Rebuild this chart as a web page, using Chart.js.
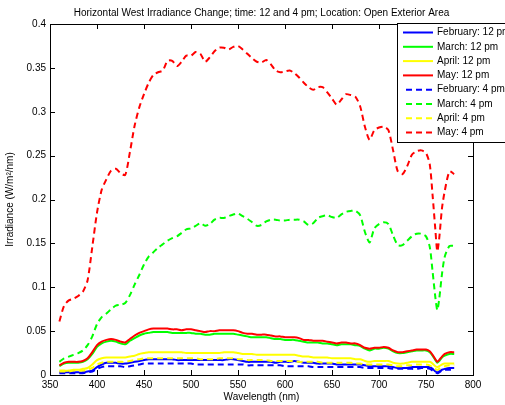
<!DOCTYPE html>
<html>
<head>
<meta charset="utf-8">
<script src="https://cdn.jsdelivr.net/npm/chart.js@4.4.0/dist/chart.umd.min.js"></script>
<style>
  body { margin: 0; background: #fff; }
  #wrap { width: 505px; height: 405px; }
</style>
</head>
<body>
<div id="wrap"><canvas id="myChart" width="505" height="405"></canvas></div>
<script>
// wavelengths (nm), shared by every series
const wavelengths = [
  360, 365, 370, 375, 380, 385, 390, 395, 400, 405,
  410, 415, 420, 425, 430, 435, 440, 445, 450, 455,
  460, 465, 470, 475, 480, 485, 490, 495, 500, 505,
  510, 515, 520, 525, 530, 535, 540, 545, 550, 555,
  560, 565, 570, 575, 580, 585, 590, 595, 600, 605,
  610, 615, 620, 625, 630, 635, 640, 645, 650, 655,
  660, 665, 670, 675, 680, 685, 690, 695, 700, 705,
  710, 715, 720, 725, 730, 735, 740, 745, 750, 754,
  757, 760, 762, 764, 767, 770, 775, 780
];

const febNoon = [
  0.003, 0.003, 0.003, 0.003, 0.003, 0.003, 0.004, 0.005, 0.009, 0.012,
  0.014, 0.014, 0.014, 0.013, 0.013, 0.014, 0.015, 0.016, 0.017, 0.018,
  0.018, 0.018, 0.018, 0.018, 0.018, 0.017, 0.017, 0.017, 0.017, 0.017,
  0.017, 0.017, 0.017, 0.017, 0.017, 0.017, 0.018, 0.018, 0.017, 0.016,
  0.015, 0.015, 0.015, 0.015, 0.015, 0.015, 0.014, 0.015, 0.015, 0.015,
  0.016, 0.015, 0.014, 0.014, 0.014, 0.013, 0.013, 0.013, 0.013, 0.012,
  0.012, 0.012, 0.012, 0.012, 0.012, 0.011, 0.010, 0.010, 0.010, 0.010,
  0.010, 0.009, 0.008, 0.008, 0.008, 0.009, 0.009, 0.009, 0.009, 0.009,
  0.007, 0.004, 0.003, 0.004, 0.006, 0.007, 0.008, 0.008
];
const marNoon = [
  0.010, 0.013, 0.014, 0.014, 0.014, 0.015, 0.018, 0.024, 0.032, 0.036,
  0.038, 0.039, 0.038, 0.036, 0.035, 0.039, 0.042, 0.045, 0.047, 0.048,
  0.049, 0.049, 0.049, 0.049, 0.048, 0.048, 0.048, 0.048, 0.048, 0.047,
  0.047, 0.046, 0.046, 0.047, 0.047, 0.047, 0.047, 0.047, 0.046, 0.045,
  0.044, 0.043, 0.043, 0.043, 0.043, 0.042, 0.041, 0.041, 0.040, 0.040,
  0.040, 0.039, 0.038, 0.037, 0.037, 0.037, 0.036, 0.036, 0.035, 0.034,
  0.035, 0.035, 0.035, 0.034, 0.033, 0.030, 0.028, 0.030, 0.030, 0.031,
  0.030, 0.027, 0.025, 0.025, 0.026, 0.027, 0.028, 0.028, 0.028, 0.026,
  0.022, 0.017, 0.014, 0.016, 0.020, 0.022, 0.024, 0.024
];
const aprNoon = [
  0.005, 0.005, 0.005, 0.006, 0.006, 0.007, 0.008, 0.012, 0.017, 0.019,
  0.020, 0.020, 0.020, 0.020, 0.020, 0.021, 0.022, 0.024, 0.025, 0.026,
  0.026, 0.026, 0.026, 0.026, 0.026, 0.026, 0.026, 0.025, 0.025, 0.025,
  0.025, 0.025, 0.025, 0.025, 0.025, 0.026, 0.026, 0.026, 0.025, 0.024,
  0.024, 0.024, 0.023, 0.023, 0.023, 0.023, 0.023, 0.023, 0.023, 0.023,
  0.023, 0.022, 0.021, 0.021, 0.020, 0.020, 0.020, 0.020, 0.019, 0.019,
  0.019, 0.019, 0.019, 0.018, 0.018, 0.016, 0.015, 0.016, 0.016, 0.016,
  0.016, 0.014, 0.013, 0.013, 0.014, 0.015, 0.015, 0.015, 0.015, 0.015,
  0.013, 0.010, 0.009, 0.010, 0.012, 0.013, 0.013, 0.013
];
const mayNoon = [
  0.011, 0.014, 0.015, 0.015, 0.015, 0.016, 0.019, 0.026, 0.034, 0.038,
  0.040, 0.041, 0.040, 0.038, 0.037, 0.041, 0.045, 0.048, 0.050, 0.052,
  0.053, 0.053, 0.053, 0.053, 0.052, 0.052, 0.051, 0.052, 0.052, 0.051,
  0.050, 0.049, 0.050, 0.050, 0.051, 0.051, 0.051, 0.051, 0.050, 0.048,
  0.047, 0.047, 0.046, 0.046, 0.046, 0.045, 0.044, 0.044, 0.043, 0.043,
  0.043, 0.042, 0.040, 0.040, 0.039, 0.039, 0.039, 0.038, 0.037, 0.036,
  0.037, 0.037, 0.036, 0.036, 0.034, 0.031, 0.030, 0.031, 0.031, 0.032,
  0.031, 0.028, 0.026, 0.026, 0.027, 0.028, 0.029, 0.029, 0.029, 0.027,
  0.023, 0.018, 0.015, 0.017, 0.021, 0.024, 0.026, 0.026
];
const febPM = [
  0.002, 0.002, 0.002, 0.002, 0.002, 0.002, 0.003, 0.004, 0.007, 0.009,
  0.010, 0.010, 0.010, 0.010, 0.009, 0.010, 0.011, 0.012, 0.013, 0.013,
  0.013, 0.013, 0.013, 0.013, 0.013, 0.013, 0.013, 0.013, 0.013, 0.012,
  0.012, 0.012, 0.012, 0.012, 0.012, 0.012, 0.012, 0.012, 0.012, 0.012,
  0.011, 0.011, 0.011, 0.011, 0.011, 0.011, 0.011, 0.011, 0.010, 0.010,
  0.010, 0.010, 0.010, 0.010, 0.009, 0.009, 0.009, 0.009, 0.009, 0.009,
  0.009, 0.009, 0.009, 0.009, 0.009, 0.008, 0.008, 0.008, 0.008, 0.008,
  0.008, 0.007, 0.007, 0.007, 0.007, 0.007, 0.007, 0.008, 0.008, 0.007,
  0.005, 0.003, 0.002, 0.003, 0.005, 0.006, 0.006, 0.006
];
const marPM = [
  0.015, 0.019, 0.021, 0.023, 0.025, 0.028, 0.034, 0.044, 0.058, 0.066,
  0.070, 0.075, 0.079, 0.080, 0.082, 0.091, 0.103, 0.114, 0.126, 0.135,
  0.140, 0.145, 0.149, 0.153, 0.156, 0.158, 0.162, 0.166, 0.167, 0.170,
  0.173, 0.170, 0.172, 0.177, 0.179, 0.179, 0.181, 0.183, 0.184, 0.181,
  0.178, 0.174, 0.170, 0.171, 0.175, 0.177, 0.177, 0.176, 0.176, 0.177,
  0.177, 0.177, 0.175, 0.171, 0.173, 0.179, 0.181, 0.182, 0.180, 0.179,
  0.183, 0.186, 0.187, 0.187, 0.182, 0.163, 0.151, 0.167, 0.172, 0.174,
  0.172, 0.159, 0.148, 0.148, 0.153, 0.158, 0.161, 0.161, 0.158, 0.146,
  0.118, 0.088, 0.074, 0.086, 0.115, 0.135, 0.147, 0.147
];
const aprPM = [
  0.004, 0.004, 0.004, 0.005, 0.005, 0.005, 0.006, 0.008, 0.012, 0.014,
  0.015, 0.015, 0.015, 0.015, 0.015, 0.016, 0.017, 0.018, 0.019, 0.019,
  0.019, 0.019, 0.019, 0.019, 0.019, 0.019, 0.019, 0.019, 0.019, 0.019,
  0.018, 0.018, 0.018, 0.018, 0.019, 0.019, 0.019, 0.019, 0.018, 0.018,
  0.017, 0.017, 0.017, 0.017, 0.017, 0.016, 0.016, 0.016, 0.016, 0.016,
  0.016, 0.015, 0.015, 0.015, 0.015, 0.015, 0.014, 0.014, 0.014, 0.014,
  0.014, 0.014, 0.014, 0.013, 0.013, 0.012, 0.012, 0.012, 0.012, 0.012,
  0.012, 0.011, 0.010, 0.010, 0.011, 0.011, 0.012, 0.012, 0.012, 0.011,
  0.009, 0.007, 0.006, 0.007, 0.009, 0.010, 0.011, 0.011
];
const mayPM = [
  0.061, 0.079, 0.085, 0.087, 0.090, 0.095, 0.108, 0.146, 0.185, 0.211,
  0.223, 0.233, 0.235, 0.230, 0.228, 0.254, 0.284, 0.305, 0.320, 0.333,
  0.342, 0.345, 0.347, 0.358, 0.358, 0.352, 0.357, 0.364, 0.364, 0.368,
  0.366, 0.357, 0.362, 0.369, 0.373, 0.373, 0.371, 0.374, 0.375, 0.371,
  0.366, 0.361, 0.357, 0.356, 0.359, 0.354, 0.347, 0.345, 0.346, 0.347,
  0.344, 0.339, 0.333, 0.328, 0.325, 0.328, 0.328, 0.322, 0.315, 0.308,
  0.314, 0.320, 0.319, 0.317, 0.306, 0.283, 0.268, 0.279, 0.282, 0.283,
  0.279, 0.256, 0.232, 0.229, 0.238, 0.251, 0.255, 0.256, 0.253, 0.240,
  0.205, 0.165, 0.141, 0.155, 0.190, 0.210, 0.232, 0.229
];

const seriesLabels = [
  "February: 12 pm", "March: 12 pm", "April: 12 pm", "May: 12 pm",
  "February: 4 pm", "March: 4 pm", "April: 4 pm", "May: 4 pm"
];
const seriesValues = [febNoon, marNoon, aprNoon, mayNoon, febPM, marPM, aprPM, mayPM];
const seriesColors = ["#0000ff", "#00ff00", "#ffff00", "#ff0000", "#0000ff", "#00ff00", "#ffff00", "#ff0000"];
const xTicks = [350, 400, 450, 500, 550, 600, 650, 700, 750, 800];
const yTicks = [0, 0.05, 0.1, 0.15, 0.2, 0.25, 0.3, 0.35, 0.4];

const titleText = "Horizontal West Irradiance Change; time: 12 and 4 pm; Location: Open Exterior Area";
const FONT = "'Liberation Sans', Arial, sans-serif";

const datasets = seriesLabels.map((label, i) => ({
  label: label,
  data: wavelengths.map((w, j) => ({ x: w, y: seriesValues[i][j] })),
  borderColor: seriesColors[i],
  backgroundColor: seriesColors[i],
  borderWidth: 2,
  borderDash: i >= 4 ? [6, 4] : [],
  pointRadius: 0,
  tension: 0.25,
  fill: false,
  order: 8 - i, // later series drawn on top, like matlab
}));

// frame, inward ticks, title and legend box
const matlabLook = {
  id: "matlabLook",
  afterDraw(chart) {
    const ctx = chart.ctx;
    const a = chart.chartArea;
    const xs = chart.scales.x, ys = chart.scales.y;
    ctx.save();
    ctx.strokeStyle = "#000";
    ctx.lineWidth = 1;
    ctx.strokeRect(Math.round(a.left) + 0.5, Math.round(a.top) + 0.5,
      Math.round(a.right - a.left), Math.round(a.bottom - a.top));
    const tl = 5;
    ctx.beginPath();
    xTicks.forEach(v => {
      const px = Math.round(xs.getPixelForValue(v)) + 0.5;
      ctx.moveTo(px, a.bottom); ctx.lineTo(px, a.bottom - tl);
      ctx.moveTo(px, a.top); ctx.lineTo(px, a.top + tl);
    });
    yTicks.forEach(v => {
      const py = Math.round(ys.getPixelForValue(v)) + 0.5;
      ctx.moveTo(a.left, py); ctx.lineTo(a.left + tl, py);
      ctx.moveTo(a.right, py); ctx.lineTo(a.right - tl, py);
    });
    ctx.stroke();

    // title
    ctx.fillStyle = "#000";
    ctx.font = "10px " + FONT;
    ctx.textAlign = "center";
    ctx.textBaseline = "middle";
    ctx.fillText(titleText, (a.left + a.right) / 2, 13);

    // legend
    const bx = 397.5, by = 23.5, bw = 120, bh = 119;
    ctx.fillStyle = "#fff";
    ctx.fillRect(bx, by, bw, bh);
    ctx.strokeRect(bx, by, bw, bh);
    ctx.textAlign = "left";
    chart.data.datasets.forEach((ds, i) => {
      const y = 32.5 + i * 14.3;
      ctx.strokeStyle = ds.borderColor;
      ctx.lineWidth = 2;
      ctx.setLineDash(ds.borderDash);
      ctx.beginPath();
      ctx.moveTo(i >= 4 ? 406 : 403, y);
      ctx.lineTo(433, y);
      ctx.stroke();
      ctx.setLineDash([]);
      ctx.fillStyle = "#000";
      ctx.fillText(ds.label, 437, y);
    });
    ctx.restore();
  }
};

new Chart(document.getElementById("myChart"), {
  type: "line",
  data: { datasets: datasets },
  options: {
    responsive: false,
    animation: false,
    devicePixelRatio: 1,
    layout: { padding: { top: 24, right: 32, left: 0, bottom: 0 } },
    plugins: {
      legend: { display: false },
      title: { display: false },
      tooltip: { enabled: false },
    },
    scales: {
      x: {
        type: "linear",
        min: 350,
        max: 800,
        afterFit: s => { s.height = 30; },
        afterBuildTicks: s => { s.ticks = xTicks.map(v => ({ value: v })); },
        grid: { display: false, drawTicks: false },
        border: { display: false },
        ticks: { color: "#000", font: { size: 10, family: FONT }, padding: 4, maxRotation: 0 },
        title: { display: true, text: "Wavelength (nm)", color: "#000",
          font: { size: 10, family: FONT }, padding: { top: 0, bottom: 2 } },
      },
      y: {
        min: 0,
        max: 0.4,
        afterFit: s => { s.width = 50; },
        afterBuildTicks: s => { s.ticks = yTicks.map(v => ({ value: v })); },
        grid: { display: false, drawTicks: false },
        border: { display: false },
        ticks: { color: "#000", font: { size: 10, family: FONT }, padding: 4,
          callback: v => String(Number(v.toFixed(2))) },
        title: { display: true, text: "Irradiance (W/m²/nm)", color: "#000",
          font: { size: 10, family: FONT }, padding: { top: 4, bottom: 0 } },
      },
    },
  },
  plugins: [matlabLook],
});
</script>
</body>
</html>
